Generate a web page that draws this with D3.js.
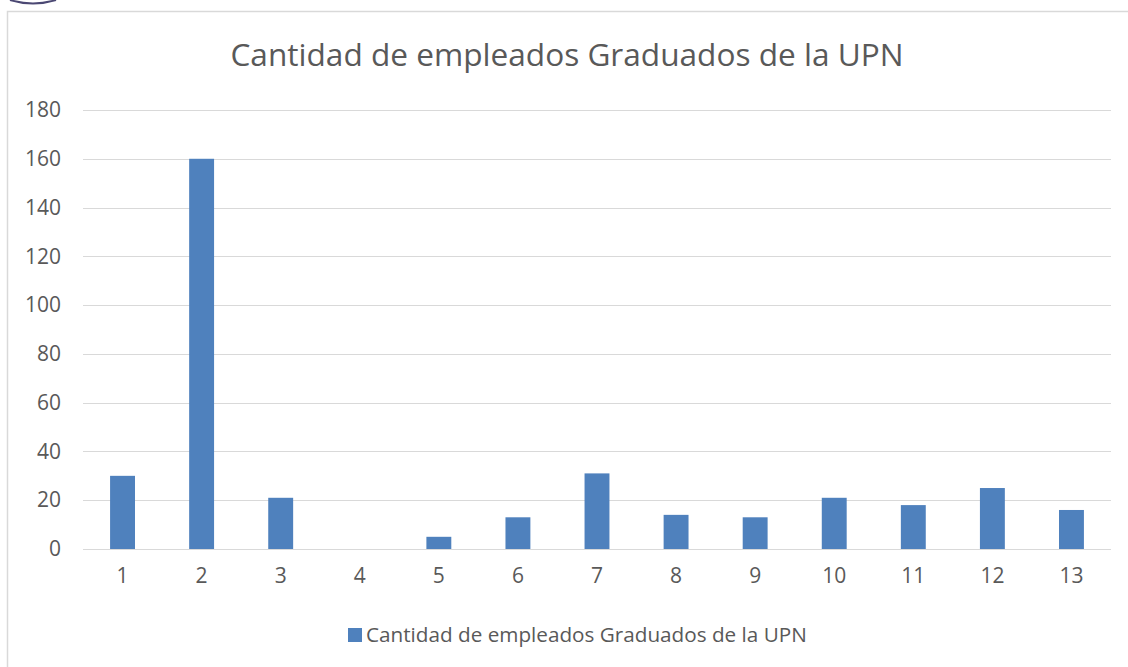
<!DOCTYPE html>
<html>
<head>
<meta charset="utf-8">
<script src="https://d3js.org/d3.v7.min.js"></script>
<style>
  body { margin: 0; background: #fff; }
  text { font-family: "Open Sans", sans-serif; fill: #595959; }
</style>
</head>
<body>
<script>
// data
var categories = ["1","2","3","4","5","6","7","8","9","10","11","12","13"];
var values = [30, 160, 21, 0, 5, 13, 31, 14, 13, 21, 18, 25, 16];
var yTicks = [0, 20, 40, 60, 80, 100, 120, 140, 160, 180];
var title = "Cantidad de empleados Graduados de la UPN";
var seriesName = "Cantidad de empleados Graduados de la UPN";

var width = 1128, height = 667;
var plot = {left: 83, right: 1111, top: 110, bottom: 549};

var svg = d3.select("body").append("svg")
  .attr("width", width)
  .attr("height", height);

// bit of the logo peeking in at the top left
svg.append("path")
  .attr("d", "M10,0 Q33,7 56,0")
  .attr("fill", "none")
  .attr("stroke", "#4b4873")
  .attr("stroke-width", 2);

// chart frame
svg.append("rect")
  .attr("x", 7.5).attr("y", 11.5)
  .attr("width", 1140).attr("height", 700)
  .attr("fill", "#fff")
  .attr("stroke", "#d9d9d9")
  .attr("stroke-width", 1.5);

var x = d3.scaleBand()
  .domain(categories)
  .range([plot.left, plot.right])
  .paddingInner(0.685)
  .paddingOuter(0.3425);

var y = d3.scaleLinear()
  .domain([0, 180])
  .range([plot.bottom, plot.top]);

// gridlines
svg.append("g")
  .selectAll("line")
  .data(yTicks)
  .enter().append("line")
  .attr("x1", plot.left).attr("x2", plot.right)
  .attr("y1", function(d) { return Math.round(y(d)) + 0.5; })
  .attr("y2", function(d) { return Math.round(y(d)) + 0.5; })
  .attr("stroke", "#d9d9d9")
  .attr("stroke-width", 1.2);

// y labels
var yAxis = d3.axisLeft(y).tickValues(yTicks).tickSize(0).tickPadding(22);
var gy = svg.append("g")
  .attr("transform", "translate(" + plot.left + ",0)")
  .attr("font-size", null)
  .call(yAxis);
gy.select(".domain").remove();
gy.attr("font-size", 21);
gy.selectAll("text").attr("fill", "#595959");

// bars
svg.append("g")
  .selectAll("rect")
  .data(values)
  .enter().append("rect")
  .attr("x", function(d, i) { return x(categories[i]); })
  .attr("y", function(d) { return y(d); })
  .attr("width", x.bandwidth())
  .attr("height", function(d) { return y(0) - y(d); })
  .attr("fill", "#4f81bd");

// x labels
var xAxis = d3.axisBottom(x).tickSize(0).tickPadding(19);
var gx = svg.append("g")
  .attr("transform", "translate(0," + plot.bottom + ")")
  .call(xAxis);
gx.select(".domain").remove();
gx.attr("font-size", 21);
gx.selectAll("text").attr("fill", "#595959");

// title
svg.append("text")
  .attr("x", 567)
  .attr("y", 66)
  .attr("text-anchor", "middle")
  .style("font-size", "31.6px")
  .text(title);

// legend
svg.append("rect")
  .attr("x", 348).attr("y", 628)
  .attr("width", 14).attr("height", 14)
  .attr("fill", "#4f81bd");
svg.append("text")
  .attr("x", 366)
  .attr("y", 642)
  .style("font-size", "20.7px")
  .text(seriesName);
</script>
</body>
</html>
